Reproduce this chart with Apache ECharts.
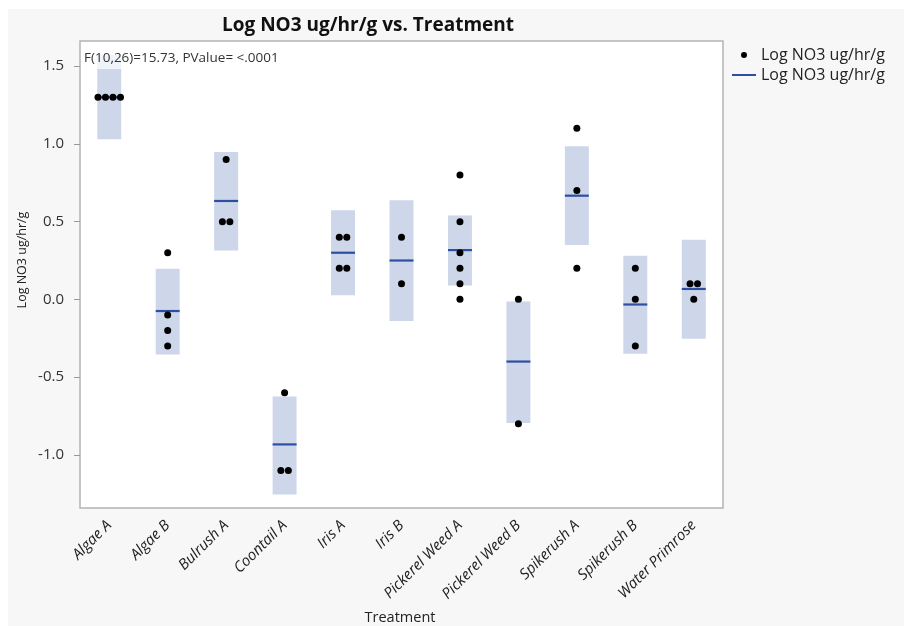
<!DOCTYPE html>
<html><head><meta charset="utf-8">
<script src="https://cdn.jsdelivr.net/npm/echarts@6/dist/echarts.min.js"></script>
<style>html,body{margin:0;padding:0;background:#fff}#c{width:904px;height:626px}</style>
</head><body><div id="c"></div><script>
const categories = ['Algae A','Algae B','Bulrush A','Coontail A','Iris A','Iris B','Pickerel Weed A','Pickerel Weed B','Spikerush A','Spikerush B','Water Primrose'];
const pointValues = [
  [1.3,1.3,1.3,1.3],
  [0.3,-0.1,-0.2,-0.3],
  [0.9,0.5,0.5],
  [-0.6,-1.1,-1.1],
  [0.4,0.4,0.2,0.2],
  [0.4,0.1],
  [0.8,0.5,0.3,0.2,0.1,0.0],
  [0.0,-0.8],
  [1.1,0.7,0.2],
  [0.2,0.0,-0.3],
  [0.1,0.1,0.0]
];
const means = [1.30,-0.075,0.633,-0.933,0.30,0.25,0.317,-0.40,0.667,-0.033,0.067];
const bandLow = [1.03,-0.354,0.315,-1.255,0.026,-0.139,0.09,-0.796,0.35,-0.35,-0.253];
const bandHigh = [1.57,0.197,0.948,-0.624,0.573,0.637,0.54,-0.013,0.985,0.28,0.384];
const yTicks = [-1.0,-0.5,0.0,0.5,1.0,1.5];
const yMin = -1.342, yMax = 1.662;
const seriesLabel = 'Log NO3 ug/hr/g';
const titleText = 'Log NO3 ug/hr/g vs. Treatment';
const statText = 'F(10,26)=15.73, PValue= <.0001';
const xTitle = 'Treatment';

// build scatter data with horizontal jitter for tied values
const pts = [];
pointValues.forEach((vals, ci) => {
  const groups = {};
  vals.forEach(v => { const k = v.toFixed(3); (groups[k] = groups[k] || []).push(v); });
  Object.values(groups).forEach(g => {
    g.forEach((v, k) => {
      const off = (k - (g.length - 1) / 2) * 7.5;
      pts.push({ value: [ci, v], symbolOffset: [off, 0] });
    });
  });
});
const bandData = categories.map((c, i) => [i, bandLow[i], bandHigh[i]]);
const meanData = categories.map((c, i) => [i, means[i]]);

const FONT = '"Open Sans", "Noto Sans", sans-serif';
const chart = echarts.init(document.getElementById('c'), null, { renderer: 'canvas' });
chart.setOption({
  backgroundColor: '#ffffff',
  animation: false,
  title: {
    text: titleText, left: 217, top: 11,
    textStyle: { fontFamily: FONT, fontSize: 19, fontWeight: 'bold', color: '#111' }
  },
  legend: [
    { data: ['points'], left: 736, top: 42, icon: 'circle', itemWidth: 6, itemHeight: 6,
      formatter: () => seriesLabel, selectedMode: false,
      textStyle: { fontFamily: FONT, fontSize: 16, color: '#222', padding: [0, 0, 0, 9] } },
    { data: ['mean'], left: 727, top: 62, icon: 'rect', itemWidth: 24, itemHeight: 2,
      formatter: () => seriesLabel, selectedMode: false,
      textStyle: { fontFamily: FONT, fontSize: 16, color: '#222' } }
  ],
  grid: { left: 80, top: 41, right: 181, bottom: 118, show: true, backgroundColor: '#ffffff', borderColor: '#b4b4b4', borderWidth: 1.5 },
  xAxis: {
    type: 'category', data: categories,
    axisLine: { show: false }, axisTick: { show: false },
    axisLabel: { rotate: 45, margin: 15, fontFamily: FONT, fontSize: 15, fontStyle: 'italic', color: '#222', interval: 0 }
  },
  yAxis: {
    type: 'value', min: yMin, max: yMax,
    splitLine: { show: false }, axisLine: { show: false },
    axisTick: { show: true, length: 6, lineStyle: { color: '#999' }, customValues: yTicks },
    axisLabel: { fontFamily: FONT, fontSize: 15, color: '#333', margin: 16, customValues: yTicks,
      formatter: v => v.toFixed(1) }
  },
  graphic: [
    { type: 'rect', z: -10, silent: true, shape: { x: 8, y: 9, width: 904, height: 626 }, style: { fill: '#f7f7f7' } },
    { type: 'text', z: 100, left: 82, top: 48, style: { text: statText, fontFamily: FONT, fontSize: 13.5, lineHeight: 14, fill: '#333',
      backgroundColor: 'rgba(255,255,255,0.7)', padding: [3, 2, 4, 2] } },
    { type: 'text', z: 100, x: 22, y: 260, rotation: Math.PI / 2, style: { text: seriesLabel, fontFamily: FONT, fontSize: 12.5, fill: '#222', align: 'center', verticalAlign: 'middle' } },
    { type: 'text', z: 100, x: 400, y: 618, style: { text: xTitle, fontFamily: FONT, fontSize: 14.5, fill: '#222', align: 'center', verticalAlign: 'middle' } }
  ],
  series: [
    { name: 'band', type: 'custom', data: bandData, z: 1,
      renderItem: (params, api) => {
        const top = api.coord([api.value(0), api.value(2)]);
        const bot = api.coord([api.value(0), api.value(1)]);
        const w = api.size([1, 0])[0] * 0.41;
        return { type: 'rect', shape: { x: top[0] - w / 2, y: top[1], width: w, height: bot[1] - top[1] }, style: { fill: '#ced6ea' } };
      } },
    { name: 'mean', type: 'custom', data: meanData, z: 2, itemStyle: { color: '#2d4fa3' },
      renderItem: (params, api) => {
        const p = api.coord([api.value(0), api.value(1)]);
        const w = api.size([1, 0])[0] * 0.41;
        return { type: 'line', shape: { x1: p[0] - w / 2, y1: p[1], x2: p[0] + w / 2, y2: p[1] }, style: { stroke: '#2d4fa3', lineWidth: 2.2 } };
      } },
    { name: 'points', type: 'scatter', data: pts, z: 3, symbol: 'circle', symbolSize: 7, itemStyle: { color: '#000', opacity: 1 } }
  ]
});
</script></body></html>
